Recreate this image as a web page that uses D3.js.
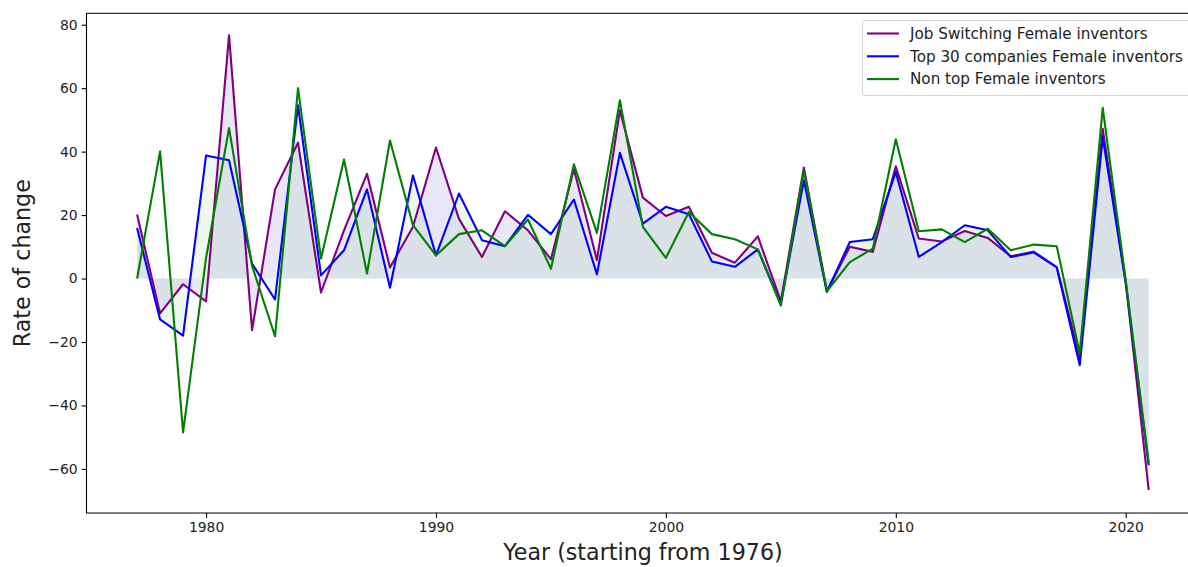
<!DOCTYPE html>
<html>
<head>
<meta charset="utf-8">
<script src="https://d3js.org/d3.v7.min.js"></script>
<style>
  body { margin: 0; background: #fff; }
  #graph { width: 1188px; height: 567px; overflow: hidden; }
  text { font-family: "DejaVu Sans", sans-serif; fill: #222; }
</style>
</head>
<body>
<div id="graph"></div>
<script>
// ---------- data ----------
var years = [1977,1978,1979,1980,1981,1982,1983,1984,1985,1986,1987,1988,1989,1990,
  1991,1992,1993,1994,1995,1996,1997,1998,1999,2000,2001,2002,2003,2004,2005,2006,
  2007,2008,2009,2010,2011,2012,2013,2014,2015,2016,2017,2018,2019,2020,2021];

var jobSwitching = [20.2,-11.0,-1.8,-7.2,76.7,-16.3,28.1,42.8,-4.4,15.2,33.0,3.5,16.3,41.3,
  18.8,6.8,21.2,15.2,6.1,34.5,5.8,53.0,25.5,19.7,22.6,8.1,5.0,13.3,-7.2,35.0,
  -4.0,10.0,8.4,35.4,12.6,11.7,15.0,12.8,7.0,8.5,3.6,-25.0,47.2,-1.0,-66.7];

var top30 = [15.9,-12.9,-18.0,38.8,37.3,4.7,-6.6,54.6,1.0,8.9,28.1,-2.9,32.5,7.3,
  26.8,12.1,10.2,20.1,14.0,24.9,1.3,39.6,17.3,22.6,20.3,5.4,3.7,9.2,-8.0,31.0,
  -4.2,11.5,12.4,33.6,6.8,11.5,16.8,15.2,6.8,8.2,3.5,-27.3,44.6,-1.5,-58.8];

var nonTop = [0.0,40.1,-48.5,6.5,47.4,4.0,-18.2,60.0,6.3,37.5,1.6,43.5,16.8,7.3,
  14.0,15.2,10.2,18.6,3.1,36.0,14.4,56.2,16.3,6.5,21.0,14.0,12.4,9.2,-8.5,34.1,
  -4.0,5.2,9.4,43.9,14.9,15.5,11.5,15.7,8.9,10.7,10.2,-23.6,53.8,-0.5,-58.0];

var seriesNames = ["Job Switching Female inventors", "Top 30 companies Female inventors", "Non top Female inventors"];
var xTicks = [1980, 1990, 2000, 2010, 2020];
var yTicks = [-60, -40, -20, 0, 20, 40, 60, 80];

var width = 1188;
var height = 567;
// axes box (right side of the figure is cut off in the picture)
var axLeft = 86.5, axRight = 1199.3, axTop = 13.3, axBottom = 513;

var svg = d3.select("#graph")
  .append("svg")
  .attr("width", width)
  .attr("height", height);

var x = d3.scaleLinear().domain([1974.8, 2023.2]).range([axLeft, axRight]);
var y = d3.scaleLinear().domain([-73.9, 83.6]).range([axBottom, axTop]);

function pts(vals) {
  return years.map(function(yr, i) { return { year: yr, v: vals[i] }; });
}

// shaded areas between zero and two of the series
var area = d3.area()
  .x(function(d) { return x(d.year); })
  .y0(y(0))
  .y1(function(d) { return y(d.v); });

svg.append("path")
  .attr("d", area(pts(jobSwitching)))
  .attr("fill", "rgb(106,90,205)")
  .attr("fill-opacity", 0.15);

svg.append("path")
  .attr("d", area(pts(top30)))
  .attr("fill", "rgb(120,200,120)")
  .attr("fill-opacity", 0.13);

// lines
var line = d3.line()
  .x(function(d) { return x(d.year); })
  .y(function(d) { return y(d.v); });

var lineData = [
  { vals: jobSwitching, color: "#800080" },
  { vals: top30, color: "#0000ff" },
  { vals: nonTop, color: "#008000" }
];

svg.selectAll(".series")
  .data(lineData)
  .enter().append("path")
  .attr("class", "series")
  .attr("d", function(d) { return line(pts(d.vals)); })
  .attr("fill", "none")
  .attr("stroke", function(d) { return d.color; })
  .attr("stroke-width", 2.1)
  .attr("stroke-linejoin", "round");

// axes
var xAxis = svg.append("g")
  .attr("transform", "translate(0," + axBottom + ")")
  .call(d3.axisBottom(x).tickValues(xTicks).tickFormat(d3.format("d")).tickSizeOuter(0).tickSize(4.9).tickPadding(4));
var yAxis = svg.append("g")
  .attr("transform", "translate(" + axLeft + ",0)")
  .call(d3.axisLeft(y).tickValues(yTicks).tickFormat(function(d) { return d < 0 ? "\u2212" + Math.abs(d) : d; })
    .tickSizeOuter(0).tickSize(4.9).tickPadding(4));

[xAxis, yAxis].forEach(function(g) {
  g.select(".domain").remove();
  g.selectAll(".tick line").attr("stroke", "#000").attr("stroke-width", 1.1);
  g.selectAll(".tick text").style("font-size", "13.9px").style("font-family", "DejaVu Sans").attr("fill", "#222");
});

// spines: left, top, bottom
svg.append("path")
  .attr("d", "M" + axRight + "," + axTop + "H" + axLeft + "V" + axBottom + "H" + axRight)
  .attr("fill", "none")
  .attr("stroke", "#000")
  .attr("stroke-width", 1.1);

// axis titles
svg.append("text")
  .attr("x", (axLeft + axRight) / 2)
  .attr("y", 560)
  .attr("text-anchor", "middle")
  .style("font-size", "22.2px")
  .text("Year (starting from 1976)");

svg.append("text")
  .attr("transform", "translate(30," + ((axTop + axBottom) / 2) + ") rotate(-90)")
  .attr("text-anchor", "middle")
  .style("font-size", "22.2px")
  .text("Rate of change");

// legend
var legend = svg.append("g");
legend.append("rect")
  .attr("x", 862.5).attr("y", 20.5)
  .attr("width", 330).attr("height", 75)
  .attr("rx", 3)
  .attr("fill", "#fff").attr("fill-opacity", 0.8)
  .attr("stroke", "#d4d4d4").attr("stroke-width", 1);

var items = legend.selectAll(".item")
  .data(lineData)
  .enter().append("g")
  .attr("class", "item")
  .attr("transform", function(d, i) { return "translate(0," + (33.5 + i * 22.8) + ")"; });

items.append("line")
  .attr("x1", 867).attr("x2", 899)
  .attr("stroke", function(d) { return d.color; })
  .attr("stroke-width", 2.1);

items.append("text")
  .attr("x", 910)
  .attr("dy", "0.35em")
  .style("font-size", "15.2px")
  .text(function(d, i) { return seriesNames[i]; });
</script>
</body>
</html>
